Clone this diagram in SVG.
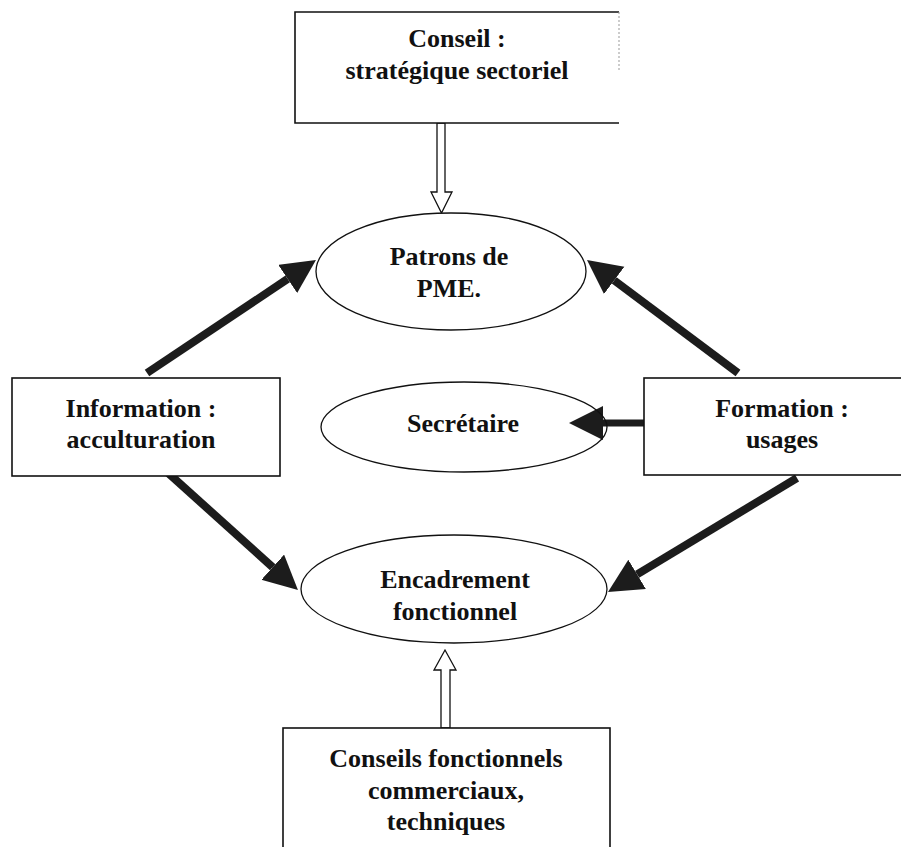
<svg xmlns="http://www.w3.org/2000/svg" width="901" height="847" viewBox="0 0 901 847">
  <style>
    .box { fill: #fff; stroke: #111; stroke-width: 1.6; }
    .oval { fill: #fff; stroke: #111; stroke-width: 1.3; }
    .lbl { font-family: "Liberation Serif", "Times New Roman", serif; font-weight: bold; font-size: 26px; fill: #111; text-anchor: middle; }
    .flow { stroke: #1c1c1c; stroke-width: 8; fill: none; marker-end: url(#head); }
    .hollow { fill: #fff; stroke: #111; stroke-width: 1.3; stroke-linejoin: miter; }
  </style>
  <defs>
    <marker id="head" markerUnits="userSpaceOnUse" markerWidth="36" markerHeight="36" refX="0" refY="17" orient="auto" viewBox="0 0 36 36">
      <path d="M0,0 L34,17 L0,34 Z" fill="#1c1c1c"/>
    </marker>
  </defs>

  <rect width="901" height="847" fill="#fff"/>

  <!-- connectors -->
  <g id="connectors">
    <!-- Information -> Patrons -->
    <line class="flow" x1="147" y1="373" x2="287.7" y2="278.9"/>
    <!-- Information -> Encadrement -->
    <line class="flow" x1="167" y1="472" x2="272.7" y2="567.2"/>
    <!-- Formation -> Patrons -->
    <line class="flow" x1="738" y1="373" x2="614.2" y2="280.4"/>
    <!-- Formation -> Secretaire -->
    <line class="flow" x1="644" y1="423" x2="603" y2="423" style="stroke-width:7"/>
    <!-- Formation -> Encadrement -->
    <line class="flow" x1="797" y1="478" x2="637.1" y2="574.4"/>
    <!-- hollow arrow: Conseil -> Patrons -->
    <path class="hollow" d="M437,123 L445,123 L445,192 L452,192 L441.5,213 L431,192 L437,192 Z"/>
    <!-- hollow arrow: Conseils fonctionnels -> Encadrement -->
    <path class="hollow" d="M441,728 L441,670 L434,670 L445,650 L456,670 L450,670 L450,728 Z"/>
  </g>

  <g id="conseil">
    <path class="box" d="M619,123 L295,123 L295,12 L619,12"/>
    <line x1="619" y1="12" x2="619" y2="70" stroke="#999" stroke-width="1" stroke-dasharray="2,2"/>
    <text class="lbl" x="457" y="47">Conseil :</text>
    <text class="lbl" x="457" y="79">stratégique sectoriel</text>
  </g>

  <g id="patrons">
    <ellipse class="oval" cx="451" cy="271.5" rx="135" ry="58.5"/>
    <text class="lbl" x="449" y="265">Patrons de</text>
    <text class="lbl" x="449" y="297">PME.</text>
  </g>

  <g id="secretaire">
    <ellipse class="oval" cx="464" cy="427" rx="143" ry="45" style="fill:none"/>
    <text class="lbl" x="463" y="432">Secrétaire</text>
  </g>

  <g id="information">
    <rect class="box" x="12" y="378" width="268" height="98"/>
    <text class="lbl" x="141" y="417">Information :</text>
    <text class="lbl" x="141" y="448">acculturation</text>
  </g>

  <g id="formation">
    <rect class="box" x="644" y="378" width="270" height="97"/>
    <text class="lbl" x="782" y="417">Formation :</text>
    <text class="lbl" x="782" y="448">usages</text>
  </g>

  <g id="encadrement">
    <ellipse class="oval" cx="454" cy="589" rx="153" ry="54"/>
    <text class="lbl" x="455" y="588">Encadrement</text>
    <text class="lbl" x="455" y="620">fonctionnel</text>
  </g>

  <g id="conseils-fonctionnels">
    <rect class="box" x="283" y="728" width="327" height="140"/>
    <text class="lbl" x="446" y="767">Conseils fonctionnels</text>
    <text class="lbl" x="446" y="799">commerciaux,</text>
    <text class="lbl" x="446" y="830">techniques</text>
  </g>
</svg>
